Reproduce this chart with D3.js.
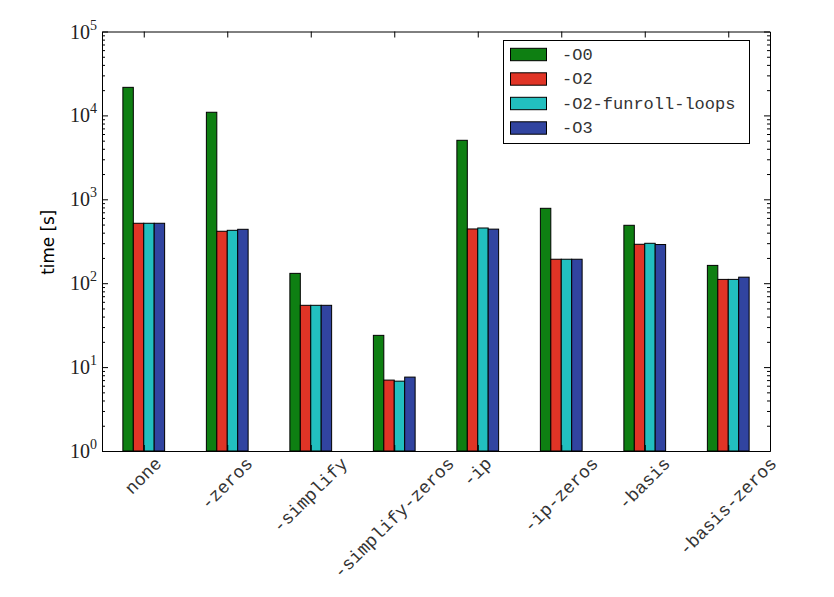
<!DOCTYPE html>
<html>
<head>
<meta charset="utf-8">
<script src="https://cdn.jsdelivr.net/npm/d3@7/dist/d3.min.js"></script>
<style>
  body { margin: 0; background: #fff; }
  svg { display: block; }
</style>
</head>
<body>
<svg id="chart" width="834" height="597"></svg>
<script>
const categories = ["none", "-zeros", "-simplify", "-simplify-zeros", "-ip", "-ip-zeros", "-basis", "-basis-zeros"];
const seriesNames = ["-O0", "-O2", "-O2-funroll-loops", "-O3"];
const O0 = [21600, 10900, 131, 23.9, 5050, 781, 490, 163];
const O2 = [518, 416, 54.5, 7.0, 443, 193, 291, 111];
const O2funroll = [518, 427, 54.5, 6.8, 455, 193, 299, 111];
const O3 = [518, 439, 54.5, 7.6, 441, 193, 289, 118];
const yMajorTicks = [1, 10, 100, 1000, 10000, 100000];
const yLabel = "time [s]";

const seriesValues = [O0, O2, O2funroll, O3];
const colors = ["#0e7f12", "#e03426", "#22bfbf", "#3144a0"];

const svg = d3.select("#chart");
const L = 102, R = 770, T = 31.5, B = 451;
const barW = 0.125;

const x = d3.scaleLinear().domain([-0.25, 7.75]).range([L, R]);
const y = d3.scaleLog().domain([1, 1e5]).range([B, T]);

// bars
const gBars = svg.append("g");
seriesValues.forEach((vals, j) => {
  gBars.selectAll(null).data(vals).enter().append("rect")
    .attr("x", (d, i) => x(i + j * barW))
    .attr("width", x(barW) - x(0))
    .attr("y", d => y(d))
    .attr("height", d => y(1) - y(d))
    .attr("fill", colors[j])
    .attr("stroke", "#000")
    .attr("stroke-width", 1);
});

// minor ticks
const minor = [];
for (let e = 0; e < 5; e++) for (let m = 2; m <= 9; m++) minor.push(m * Math.pow(10, e));
const groupCenters = categories.map((c, i) => i + 2 * barW);

function styleAxis(g) {
  g.selectAll("path.domain").attr("stroke", "#000").attr("stroke-width", 1);
  g.selectAll(".tick line").attr("stroke", "#000").attr("stroke-width", 1);
  g.selectAll(".tick text").remove();
}
svg.append("g").attr("transform", `translate(${L},0)`)
  .call(d3.axisLeft(y).tickValues(yMajorTicks).tickSize(-6).tickSizeOuter(0).tickFormat(""))
  .call(styleAxis);
svg.append("g").attr("transform", `translate(${L},0)`)
  .call(d3.axisLeft(y).tickValues(minor).tickSize(-3).tickSizeOuter(0).tickFormat(""))
  .call(styleAxis);
svg.append("g").attr("transform", `translate(${R},0)`)
  .call(d3.axisRight(y).tickValues(yMajorTicks).tickSize(-6).tickSizeOuter(0).tickFormat(""))
  .call(styleAxis);
svg.append("g").attr("transform", `translate(${R},0)`)
  .call(d3.axisRight(y).tickValues(minor).tickSize(-3).tickSizeOuter(0).tickFormat(""))
  .call(styleAxis);
svg.append("g").attr("transform", `translate(0,${T})`)
  .call(d3.axisTop(x).tickValues(groupCenters).tickSize(-6).tickSizeOuter(0).tickFormat(""))
  .call(styleAxis);
svg.append("g").attr("transform", `translate(0,${B})`)
  .call(d3.axisBottom(x).tickValues(groupCenters).tickSize(-6).tickSizeOuter(0).tickFormat(""))
  .call(styleAxis);

// y tick labels 10^n
yMajorTicks.forEach(v => {
  const t = svg.append("text")
    .attr("x", L - 5)
    .attr("y", y(v) + 7)
    .attr("text-anchor", "end")
    .attr("font-family", "'Liberation Serif', 'DejaVu Serif', serif")
    .attr("fill", "#222");
  t.append("tspan").attr("font-size", 20).text("10");
  t.append("tspan").attr("font-size", 14).attr("dy", -9).text(String(Math.round(Math.log10(v))));
});

// y axis label (sized so its length matches the reference, ~65px)
const yl = svg.append("text")
  .attr("transform", `translate(54,${(T + B) / 2 + 1}) rotate(-90)`)
  .attr("text-anchor", "middle")
  .attr("font-family", "'DejaVu Sans', 'Liberation Sans', sans-serif")
  .attr("font-size", 17)
  .attr("fill", "#000")
  .text(yLabel);
const len = yl.node().getComputedTextLength();
if (len > 0) yl.attr("font-size", 17 * 65 / len);

// x tick labels rotated 45
categories.forEach((c, i) => {
  const g = svg.append("g");
  g.append("text")
    .attr("transform", "rotate(-45)")
    .attr("text-anchor", "middle")
    .attr("font-family", "'Liberation Mono', 'Courier New', monospace")
    .attr("font-size", 18)
    .attr("fill", "#333")
    .text(c);
  const r = g.node().getBoundingClientRect();
  const cx = r.left + r.width / 2;
  const tx = x(groupCenters[i]) - cx;
  const ty = 454 - r.top;
  g.attr("transform", `translate(${tx},${ty})`);
});

// legend
const lg = svg.append("g");
lg.append("rect").attr("x", 503.5).attr("y", 40.5).attr("width", 246).attr("height", 103)
  .attr("fill", "#fff").attr("stroke", "#000").attr("stroke-width", 1);
seriesNames.forEach((s, k) => {
  const cy = 54.5 + k * 24.5;
  lg.append("rect").attr("x", 510.5).attr("y", cy - 6.2).attr("width", 36).attr("height", 12.4)
    .attr("fill", colors[k]).attr("stroke", "#000").attr("stroke-width", 1);
  lg.append("text").attr("x", 562).attr("y", cy + 5)
    .attr("font-family", "'Liberation Mono', 'Courier New', monospace")
    .attr("font-size", 17)
    .attr("fill", "#333")
    .text(s);
});
</script>
</body>
</html>
